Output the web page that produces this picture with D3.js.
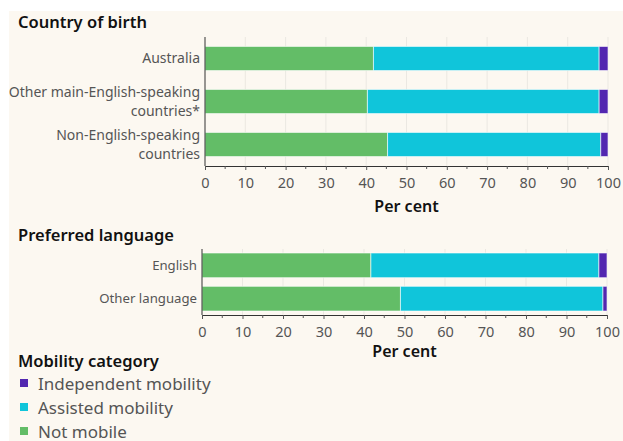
<!DOCTYPE html>
<html>
  <head>
    <meta charset="utf-8" />
    <title>Mobility category by country of birth and preferred language</title>
    <script src="https://d3js.org/d3.v7.min.js"></script>
    <style>
      html, body { margin: 0; padding: 0; background: #fff; }
      body { font-family: 'Noto Sans', sans-serif; }
      .title { font-size: 16.5px; font-weight: 600; fill: #111; }
      .ylab { font-size: 14px; fill: #555; }
      .tick text { font-size: 14.5px; fill: #555; font-family: 'Noto Sans', sans-serif; }
      .axtitle { font-size: 16px; font-weight: 600; fill: #111; }
      .legtext { font-size: 17px; fill: #555; }
    </style>
  </head>
  <body>
    <div id="chart"></div>
    <script>
      // 系列とカテゴリ
      const series = ['Not mobile', 'Assisted mobility', 'Independent mobility'];
      const legendOrder = ['Independent mobility', 'Assisted mobility', 'Not mobile'];
      const colors = ['#63bd67', '#10c5da', '#5227b0'];

      // 出生国
      const birthCats = [
        ['Australia'],
        ['Other main-English-speaking', 'countries*'],
        ['Non-English-speaking', 'countries'],
      ];
      const birthNotMobile = [41.8, 40.3, 45.3];
      const birthAssisted = [56.0, 57.5, 52.9];
      const birthIndependent = [2.2, 2.2, 1.8];

      // 使用言語
      const langCats = [['English'], ['Other language']];
      const langNotMobile = [41.7, 49.0];
      const langAssisted = [56.3, 50.0];
      const langIndependent = [2.0, 1.0];

      const xTicks = [0, 10, 20, 30, 40, 50, 60, 70, 80, 90, 100];

      const width = 623;
      const height = 441;

      const svg = d3
        .select('#chart')
        .append('svg')
        .attr('width', width)
        .attr('height', height);

      // 背景
      svg.append('rect')
        .attr('x', 9).attr('y', 11)
        .attr('width', width - 9).attr('height', height - 11)
        .attr('fill', '#fcf8f1');

      const color = d3.scaleOrdinal().domain(series).range(colors);

      function panel(cfg) {
        const rows = cfg.cats.map((c, i) => ({
          label: c,
          'Not mobile': cfg.notMobile[i],
          'Assisted mobility': cfg.assisted[i],
          'Independent mobility': cfg.independent[i],
        }));
        const stacked = d3.stack().keys(series)(rows);

        const x = d3.scaleLinear().domain([0, 100]).range([cfg.x0, cfg.x1]);
        const y = d3.scaleBand()
          .domain(rows.map((r, i) => i))
          .range([cfg.yTop, cfg.yBottom])
          .paddingInner(cfg.padIn)
          .paddingOuter(cfg.padOut);

        const g = svg.append('g');

        g.append('text')
          .attr('class', 'title')
          .attr('x', 18)
          .attr('y', cfg.titleY)
          .text(cfg.title);

        // グリッド線
        g.append('g')
          .selectAll('line')
          .data(xTicks.slice(1))
          .join('line')
          .attr('x1', (d) => x(d)).attr('x2', (d) => x(d))
          .attr('y1', cfg.yTop).attr('y2', cfg.yBottom)
          .attr('stroke', '#ebe8e2')
          .attr('stroke-width', 1);

        // バー
        g.append('g')
          .selectAll('g')
          .data(stacked)
          .join('g')
          .attr('fill', (d) => color(d.key))
          .selectAll('rect')
          .data((d) => d)
          .join('rect')
          .attr('x', (d) => x(d[0]))
          .attr('y', (d, i) => y(i))
          .attr('width', (d) => x(d[1]) - x(d[0]))
          .attr('height', y.bandwidth())
          .attr('stroke', 'rgba(255,255,255,0.6)')
          .attr('stroke-width', 1);

        // ラベル
        const lab = g.append('g')
          .selectAll('text')
          .data(rows)
          .join('text')
          .attr('class', 'ylab')
          .style('font-size', cfg.labSize + 'px')
          .attr('text-anchor', 'end')
          .attr('x', cfg.x0 - 5)
          .attr('y', (d, i) => y(i) + y.bandwidth() / 2);
        lab.each(function (d) {
          const t = d3.select(this);
          const n = d.label.length;
          d.label.forEach((line, k) => {
            t.append('tspan')
              .attr('x', cfg.x0 - 5)
              .attr('dy', k === 0 ? (0.35 - (n - 1) * 0.7) + 'em' : '1.38em')
              .text(line);
          });
        });

        // 縦軸
        g.append('line')
          .attr('x1', cfg.x0).attr('x2', cfg.x0)
          .attr('y1', cfg.yTop).attr('y2', cfg.yBottom)
          .attr('stroke', '#333');

        // 横軸
        const ax = g.append('g')
          .attr('transform', `translate(0,${cfg.yBottom})`)
          .call(d3.axisBottom(x).tickValues(xTicks).tickSize(4).tickPadding(8).tickFormat(d3.format('d')));
        ax.select('.domain').attr('stroke', '#333');
        ax.selectAll('.tick line').attr('stroke', '#555');
        ax.append('g')
          .selectAll('line')
          .data(xTicks.slice(0, -1).map((d) => d + 5))
          .join('line')
          .attr('x1', (d) => x(d)).attr('x2', (d) => x(d))
          .attr('y1', 0).attr('y2', 3)
          .attr('stroke', '#555');

        g.append('text')
          .attr('class', 'axtitle')
          .attr('text-anchor', 'middle')
          .attr('x', (cfg.x0 + cfg.x1) / 2)
          .attr('y', cfg.axTitleY)
          .text('Per cent');
      }

      panel({
        title: 'Country of birth',
        titleY: 28,
        cats: birthCats,
        notMobile: birthNotMobile,
        assisted: birthAssisted,
        independent: birthIndependent,
        x0: 205, x1: 608,
        yTop: 37, yBottom: 166,
        padIn: 0.44, padOut: 0.22,
        labSize: 14,
        axTitleY: 212,
      });

      panel({
        title: 'Preferred language',
        titleY: 241,
        cats: langCats,
        notMobile: langNotMobile,
        assisted: langAssisted,
        independent: langIndependent,
        x0: 202, x1: 607,
        yTop: 249, yBottom: 315,
        padIn: 0.26, padOut: 0.12,
        labSize: 13.2,
        axTitleY: 357,
      });

      // 凡例
      svg.append('text')
        .attr('class', 'title')
        .attr('x', 18)
        .attr('y', 367)
        .text('Mobility category');

      const leg = svg.append('g')
        .selectAll('g')
        .data(legendOrder)
        .join('g')
        .attr('transform', (d, i) => `translate(18,${384 + i * 24})`);
      leg.append('rect')
        .attr('x', 2).attr('y', -5)
        .attr('width', 8).attr('height', 8)
        .attr('fill', (d) => color(d));
      leg.append('text')
        .attr('class', 'legtext')
        .attr('x', 20)
        .attr('y', 0)
        .attr('dy', '0.35em')
        .text((d) => d);
    </script>
  </body>
</html>
